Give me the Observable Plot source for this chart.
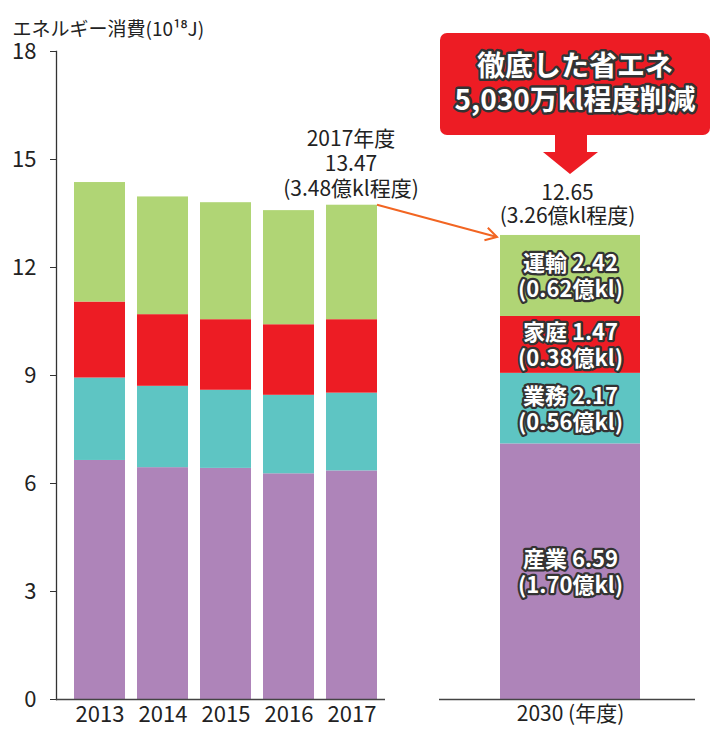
<!DOCTYPE html>
<html>
<head>
<meta charset="utf-8">
<script src="https://cdn.jsdelivr.net/npm/d3@7"></script>
<script src="https://cdn.jsdelivr.net/npm/@observablehq/plot@0.6"></script>
<style>
  body { margin: 0; background: #fff; }
  #wrap { position: relative; width: 728px; height: 737px; font-family: "Noto Sans CJK JP", "Noto Sans", sans-serif; }
  #wrap > svg, #wrap > div { position: absolute; top: 0; }
</style>
</head>
<body>
<div id="wrap"></div>
<script>
// ---- data ----
const years = ["2013", "2014", "2015", "2016", "2017"];
const sectors = ["産業", "業務", "家庭", "運輸"];
const sectorColors = ["#ae84b9", "#5ec5c3", "#ed1c24", "#b0d575"];
const industry = [6.64, 6.44, 6.42, 6.27, 6.35];
const business = [2.29, 2.26, 2.17, 2.18, 2.16];
const household = [2.11, 1.99, 1.96, 1.96, 2.04];
const transport = [3.32, 3.27, 3.25, 3.17, 3.18];
const year2030 = "2030";
const values2030 = [7.10, 1.96, 1.58, 2.25]; // bar heights as drawn
const labels2030 = ["産業 6.59\n(1.70億kl)", "業務 2.17\n(0.56億kl)", "家庭 1.47\n(0.38億kl)", "運輸 2.42\n(0.62億kl)"];
const yTicks = [0, 3, 6, 9, 12, 15, 18];
const yTitle = "エネルギー消費(10¹⁸J)";
const note2017 = "2017年度\n13.47\n(3.48億kl程度)";
const note2030 = "12.65\n(3.26億kl程度)";
const callout = ["徹底した省エネ", "5,030万kl程度削減"];
const xSuffix = " (年度)";

// ---- tables ----
const series = [industry, business, household, transport];
const rows = years.flatMap((yr, i) => sectors.map((s, j) => ({year: yr, sector: s, value: series[j][i]})));
let acc = 0;
const rows2030 = sectors.map((s, j) => {
  const y1 = acc; acc += values2030[j];
  return {year: year2030, sector: s, value: values2030[j], mid: (y1 + acc) / 2, label: labels2030[j]};
});
const total2017 = sectors.reduce((a, s, j) => a + series[j][4], 0);
const total2030 = acc;

const FONT = "'Noto Sans CJK JP', 'Noto Sans', sans-serif";
const wrap = document.getElementById("wrap");

const left = Plot.plot({
  width: 400, height: 737,
  marginLeft: 56, marginRight: 15, marginTop: 51, marginBottom: 38,
  style: {fontFamily: FONT, fontSize: "22px", color: "#222", background: "transparent", overflow: "visible"},
  x: {domain: years, paddingInner: 0.194, paddingOuter: 0.198, align: 0.68, label: null},
  y: {domain: [0, 18], label: null},
  color: {domain: sectors, range: sectorColors},
  marks: [
    Plot.barY(rows, {x: "year", y: "value", fill: "sector", order: sectors}),
    Plot.axisY({ticks: yTicks, tickSize: 6, tickPadding: 14, label: null, stroke: "#333", fontSize: 22}),
    Plot.frame({anchor: "left", stroke: "#333", strokeWidth: 1.3}),
    Plot.axisX({tickSize: 0, tickPadding: 7, label: null, fontSize: 22}),
    Plot.ruleY([0], {stroke: "#444", strokeWidth: 1.5}),
    Plot.text([yTitle], {frameAnchor: "top-left", textAnchor: "start", dx: -44, dy: -29, fontSize: 19, fill: "#222"}),
    Plot.text([note2017], {x: () => "2017", y: () => total2017, dy: -42, dx: -1, fontSize: 21, lineHeight: 1.19, fill: "#222"})
  ]
});
left.style.left = "0px";
wrap.appendChild(left);

const right = Plot.plot({
  width: 328, height: 737,
  marginLeft: 39, marginRight: 33, marginTop: 51, marginBottom: 38,
  style: {fontFamily: FONT, fontSize: "22px", color: "#222", background: "transparent", overflow: "visible"},
  x: {domain: [year2030], paddingInner: 0, paddingOuter: 0.408, align: 0.53, label: null},
  y: {domain: [0, 18], axis: null},
  color: {domain: sectors, range: sectorColors},
  marks: [
    Plot.barY(rows2030, {x: "year", y: "value", fill: "sector", order: sectors}),
    Plot.ruleY([0], {stroke: "#444", strokeWidth: 1.5}),
    Plot.axisX({tickSize: 0, tickPadding: 7, label: null, fontSize: 21, tickFormat: d => d + xSuffix}),
    Plot.text(rows2030, {x: "year", y: "mid", text: "label", fill: "white", stroke: "#333", strokeWidth: 4.5,
      strokeLinejoin: "round", fontWeight: "bold", fontSize: 22, lineHeight: 1.18}),
    Plot.text([note2030], {x: () => year2030, y: () => total2030, dy: -31, dx: -3, fontSize: 21, lineHeight: 1.1, fill: "#222"})
  ]
});
right.style.left = "400px";
wrap.appendChild(right);

// ---- overlay: connecting arrow and callout ----
const xl = left.scale("x"), yl = left.scale("y"), xr = right.scale("x"), yr = right.scale("y");
const ov = d3.create("svg").attr("width", 728).attr("height", 737)
  .style("left", "0px").style("pointer-events", "none").style("font-family", FONT);

const ax1 = xl.apply("2017") + xl.bandwidth, ay1 = yl.apply(total2017);
const ax2 = 400 + xr.apply(year2030) - 3, ay2 = yr.apply(total2030) + 2;
const ang = Math.atan2(ay2 - ay1, ax2 - ax1);
ov.append("line").attr("x1", ax1).attr("y1", ay1).attr("x2", ax2).attr("y2", ay2)
  .attr("stroke", "#f26522").attr("stroke-width", 2);
const hl = 13, ha = Math.PI / 6;
ov.append("path")
  .attr("d", `M${ax2 - hl * Math.cos(ang - ha)},${ay2 - hl * Math.sin(ang - ha)}L${ax2},${ay2}L${ax2 - hl * Math.cos(ang + ha)},${ay2 - hl * Math.sin(ang + ha)}`)
  .attr("fill", "none").attr("stroke", "#f26522").attr("stroke-width", 2);

const cx = 400 + xr.apply(year2030) + xr.bandwidth / 2; // bar centre
const g = ov.append("g");
g.append("rect").attr("x", 440).attr("y", 33).attr("width", 270).attr("height", 102).attr("rx", 7).attr("fill", "#ed1c24");
g.append("path").attr("d", `M${cx - 15},134V152H${cx - 27}L${cx},174L${cx + 28},152H${cx + 17}V134Z`).attr("fill", "#ed1c24");
const t = g.append("text").attr("text-anchor", "middle")
  .attr("font-size", 28).attr("font-weight", "bold").attr("fill", "white")
  .attr("stroke", "#333").attr("stroke-width", 5).attr("stroke-linejoin", "round").attr("paint-order", "stroke");
callout.forEach((line, i) => {
  t.append("tspan").attr("x", 575).attr("y", i === 0 ? 76 : 110).text(line);
});
wrap.appendChild(ov.node());
</script>
</body>
</html>
